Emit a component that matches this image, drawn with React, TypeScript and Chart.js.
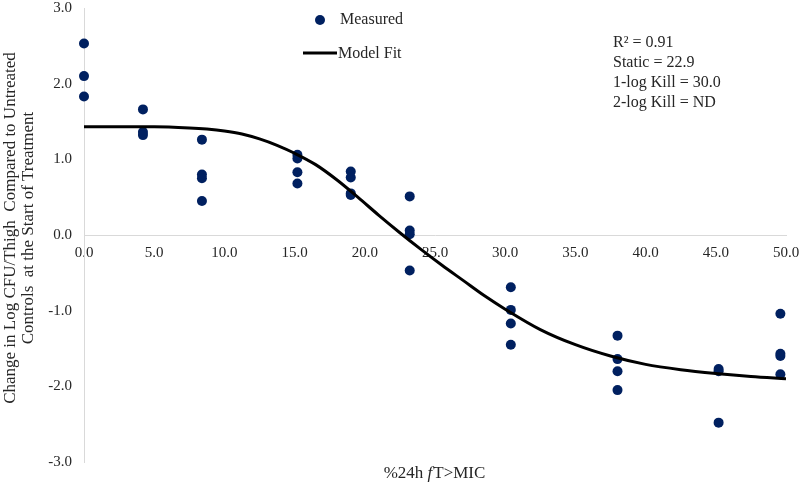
import { useEffect, useRef } from 'react';
import { Chart, registerables } from 'chart.js';

Chart.register(...registerables);

const measuredX = [
  0, 0, 0,
  4.2, 4.2, 4.2,
  8.4, 8.4, 8.4, 8.4,
  15.2, 15.2, 15.2, 15.2,
  19.0, 19.0, 19.0, 19.0,
  23.2, 23.2, 23.2, 23.2,
  30.4, 30.4, 30.4, 30.4,
  38.0, 38.0, 38.0, 38.0,
  45.2, 45.2, 45.2,
  49.6, 49.6, 49.6, 49.6,
];
const measuredY = [
  2.53, 2.10, 1.83,
  1.66, 1.36, 1.32,
  1.26, 0.80, 0.75, 0.45,
  1.06, 1.01, 0.83, 0.68,
  0.84, 0.76, 0.55, 0.53,
  0.51, 0.06, 0.01, -0.47,
  -0.69, -0.99, -1.17, -1.45,
  -1.33, -1.64, -1.80, -2.05,
  -1.77, -1.80, -2.48,
  -1.04, -1.57, -1.60, -1.84,
];

const fitX = [0, 2.5, 5, 7.5, 8.75, 10, 11.25, 12.5, 13.75, 15, 16.5, 18, 19.5, 21, 22.5, 24, 25.5, 27, 28.5, 30, 32.5, 35, 37.5, 40, 42.5, 45, 47.5, 50];
const fitY = [1.43, 1.43, 1.43, 1.415, 1.40, 1.375, 1.335, 1.27, 1.185, 1.08, 0.93, 0.73, 0.50, 0.26, 0.03, -0.19, -0.40, -0.60, -0.80, -0.98, -1.25, -1.45, -1.60, -1.71, -1.78, -1.83, -1.87, -1.90];

const legendLabels = ['Measured', 'Model Fit'];
const annotationLines = ['R\u00B2 = 0.91', 'Static = 22.9', '1-log Kill = 30.0', '2-log Kill = ND'];
const yTitleLines = ['Change in Log CFU/Thigh  Compared to Untreated', 'Controls  at the Start of Treatment'];
const xTitleParts = ['%24h ', 'f', 'T>MIC'];

const SERIF = '"Liberation Serif", "Times New Roman", serif';
const NAVY = '#002060';
const TEXT = '#262626';

const textPlugin = {
  id: 'customText',
  afterDraw(chart: any) {
    const ctx = chart.ctx as CanvasRenderingContext2D;
    ctx.save();
    // legend
    ctx.fillStyle = NAVY;
    ctx.beginPath();
    ctx.arc(320, 20, 5, 0, Math.PI * 2);
    ctx.fill();
    ctx.strokeStyle = '#000';
    ctx.lineWidth = 3;
    ctx.beginPath();
    ctx.moveTo(303, 53);
    ctx.lineTo(337, 53);
    ctx.stroke();
    ctx.fillStyle = TEXT;
    ctx.font = `16px ${SERIF}`;
    ctx.textAlign = 'left';
    ctx.textBaseline = 'middle';
    ctx.fillText(legendLabels[0], 340, 20);
    ctx.fillText(legendLabels[1], 338, 54);

    // annotation
    annotationLines.forEach((t, i) => {
      ctx.fillText(t, 613, 43 + i * 20);
    });

    // x title
    ctx.font = `17px ${SERIF}`;
    const w0 = ctx.measureText(xTitleParts[0]).width;
    ctx.font = `italic 17px ${SERIF}`;
    const w1 = ctx.measureText(xTitleParts[1]).width;
    ctx.font = `17px ${SERIF}`;
    const w2 = ctx.measureText(xTitleParts[2]).width;
    let x = 434 - (w0 + w1 + w2) / 2;
    const ty = 474;
    ctx.fillText(xTitleParts[0], x, ty);
    x += w0;
    ctx.font = `italic 17px ${SERIF}`;
    ctx.fillText(xTitleParts[1], x, ty);
    x += w1 + 1;
    ctx.font = `17px ${SERIF}`;
    ctx.fillText(xTitleParts[2], x, ty);

    // y title
    ctx.font = `17px ${SERIF}`;
    ctx.textAlign = 'center';
    ctx.textBaseline = 'alphabetic';
    ctx.translate(0, 228);
    ctx.rotate(-Math.PI / 2);
    ctx.fillText(yTitleLines[0], 0, 15);
    ctx.fillText(yTitleLines[1], 0, 33);
    ctx.restore();
  },
};

const zeroPad = (s: any) => {
  s.paddingTop = 0;
  s.paddingBottom = 0;
  s.paddingLeft = 0;
  s.paddingRight = 0;
};

export default function App() {
  const ref = useRef<HTMLCanvasElement | null>(null);

  useEffect(() => {
    if (!ref.current) return;
    const chart = new Chart(ref.current, {
      type: 'scatter',
      data: {
        datasets: [
          {
            label: legendLabels[0],
            data: measuredX.map((v, i) => ({ x: v, y: measuredY[i] })),
            backgroundColor: NAVY,
            borderColor: NAVY,
            borderWidth: 0,
            pointRadius: 5,
            clip: false,
            order: 1,
          },
          {
            label: legendLabels[1],
            type: 'line',
            data: fitX.map((v, i) => ({ x: v, y: fitY[i] })),
            borderColor: '#000',
            borderWidth: 3,
            pointRadius: 0,
            showLine: true,
            fill: false,
            cubicInterpolationMode: 'monotone',
            order: 0,
          },
        ],
      } as any,
      options: {
        responsive: false,
        animation: false,
        layout: { padding: { left: 0, top: 8, right: 14, bottom: 24 } },
        plugins: {
          legend: { display: false },
          tooltip: { enabled: false },
          title: { display: false },
        },
        scales: {
          x: {
            type: 'linear',
            min: 0,
            max: 50,
            position: { y: 0 } as any,
            grid: { display: false, drawTicks: false },
            border: { display: true, color: '#d9d9d9', width: 1 },
            afterFit: zeroPad,
            ticks: {
              stepSize: 5,
              autoSkip: false,
              maxRotation: 0,
              padding: 9,
              color: TEXT,
              font: { family: SERIF, size: 15 },
              callback: (v: any) => Number(v).toFixed(1),
            },
          },
          y: {
            type: 'linear',
            min: -3,
            max: 3,
            grid: { display: false, drawTicks: false },
            border: { display: true, color: '#d9d9d9', width: 1 },
            afterFit: (s: any) => {
              s.width = 84;
              zeroPad(s);
            },
            ticks: {
              stepSize: 1,
              padding: 12,
              color: TEXT,
              font: { family: SERIF, size: 15 },
              callback: (v: any) => Number(v).toFixed(1),
            },
          },
        },
      } as any,
      plugins: [textPlugin],
    });
    return () => chart.destroy();
  }, []);

  return (
    <canvas
      ref={ref}
      width={800}
      height={486}
      style={{ position: 'absolute', left: 0, top: 0, display: 'block', width: 800, height: 486 }}
    />
  );
}
